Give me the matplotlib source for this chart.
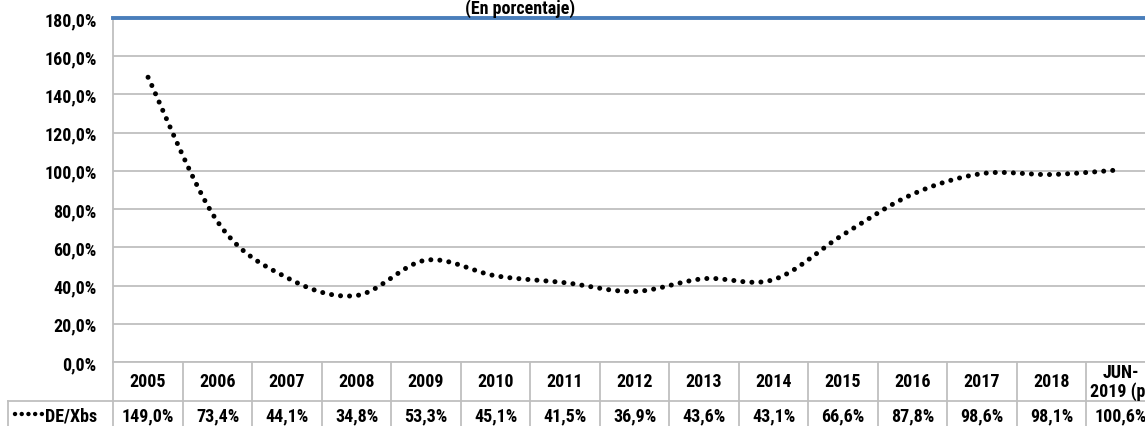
import numpy as np
import matplotlib
matplotlib.use("Agg")
import matplotlib.pyplot as plt
import matplotlib.transforms as mtransforms
from matplotlib.lines import Line2D

plt.rcParams['font.family'] = ['Roboto Condensed', 'Liberation Sans', 'DejaVu Sans']
plt.rcParams['font.weight'] = 'bold'

# datos (en porcentaje)
categorias = ['2005', '2006', '2007', '2008', '2009', '2010', '2011', '2012',
              '2013', '2014', '2015', '2016', '2017', '2018', 'JUN-\n2019 (p)']
valores = [149.0, 73.4, 44.1, 34.8, 53.3, 45.1, 41.5, 36.9,
           43.6, 43.1, 66.6, 87.8, 98.6, 98.1, 100.6]
serie = 'DE/Xbs'
titulo = '(En porcentaje)'
yticks = [0, 20, 40, 60, 80, 100, 120, 140, 160, 180]

FS = 13


def suavizar(x, y, n=30):
    # curva suavizada tipo Excel (Catmull-Rom) entre puntos consecutivos
    x = np.asarray(x, float)
    y = np.asarray(y, float)
    px = np.concatenate([[x[0]], x, [x[-1]]])
    py = np.concatenate([[y[0]], y, [y[-1]]])
    xs, ys = [], []
    t = np.linspace(0, 1, n, endpoint=False)
    for i in range(1, len(px) - 2):
        p0, p1, p2, p3 = (np.array([px[j], py[j]]) for j in range(i - 1, i + 3))
        c1 = p1 + (p2 - p0) / 6
        c2 = p2 - (p3 - p1) / 6
        b = ((1 - t) ** 3)[:, None] * p1 + (3 * (1 - t) ** 2 * t)[:, None] * c1 \
            + (3 * (1 - t) * t ** 2)[:, None] * c2 + (t ** 3)[:, None] * p2
        xs.append(b[:, 0])
        ys.append(b[:, 1])
    xs.append([x[-1]])
    ys.append([y[-1]])
    return np.concatenate(xs), np.concatenate(ys)


W, H = 1145, 427
fig = plt.figure(figsize=(W / 100, H / 100), dpi=100)
left, right, top, bottom = 113.3, 1155.8, 19, 363
ax = fig.add_axes([left / W, 1 - bottom / H, (right - left) / W, (bottom - top) / H])

punteado = dict(color='black', linewidth=3.6, linestyle=(0, (0.01, 1.8)),
                dash_capstyle='round')

x = np.arange(len(categorias))
xs, ys = suavizar(x, valores)
ax.plot(xs, ys, zorder=3, **punteado)

ax.set_xlim(-0.5, len(categorias) - 0.5)
ax.set_ylim(0, 180)
ax.set_yticks(yticks)
ax.set_yticklabels([f'{v:.1f}%'.replace('.', ',') for v in yticks], fontsize=FS,
                   fontweight='bold')
ax.tick_params(axis='y', length=0, pad=12)
ax.set_xticks([])
ax.grid(axis='y', color='#bfbfbf', linewidth=1.3)
ax.set_axisbelow(True)
for s in ['right', 'bottom']:
    ax.spines[s].set_visible(False)
ax.spines['left'].set_color('#bfbfbf')
ax.spines['left'].set_linewidth(1.3)
ax.spines['top'].set_color('#4a7ebb')
ax.spines['top'].set_linewidth(2.8)

# tabla de datos
trans = mtransforms.blended_transform_factory(ax.transData, ax.transAxes)
h_head = (402 - bottom) / (bottom - top)
h_row = (428 - bottom) / (bottom - top)
gcol = '#bfbfbf'
label_left = -0.5 - (left - 8) / ((right - left) / len(categorias))
n = len(categorias)
for i, cat in enumerate(categorias):
    ax.text(i, -h_head / 2, cat, transform=trans, ha='center', va='center',
            fontsize=FS, fontweight='bold', clip_on=False, linespacing=1.0)
    ax.text(i, -(h_head + h_row) / 2 - 0.005, f'{valores[i]:.1f}%'.replace('.', ','),
            transform=trans, ha='center', va='center', fontsize=FS,
            fontweight='bold', clip_on=False)
for b in range(n + 1):
    ax.add_line(Line2D([b - 0.5, b - 0.5], [0, -h_row], transform=trans,
                       color=gcol, linewidth=1.3, clip_on=False))
ax.add_line(Line2D([-0.5, n - 0.5], [0, 0], transform=trans, color=gcol,
                   linewidth=1.3, clip_on=False))
ax.add_line(Line2D([label_left, n - 0.5], [-h_head, -h_head], transform=trans,
                   color=gcol, linewidth=1.3, clip_on=False))
ax.add_line(Line2D([label_left, label_left], [-h_head, -h_row - 0.01],
                   transform=trans, color=gcol, linewidth=1.3, clip_on=False))
# muestra de la serie
ymid = -(h_head + h_row) / 2
ax.add_line(Line2D([label_left + 0.1, label_left + 0.5], [ymid, ymid],
                   transform=trans, clip_on=False, color='black', linewidth=3.2,
                   linestyle=(0, (0.01, 1.5)), dash_capstyle='round'))
ax.text(-0.5 - 0.23, ymid - 0.005, serie, transform=trans, ha='right', va='center',
        fontsize=FS, fontweight='bold', clip_on=False)

fig.text(520 / W, 1 - 14 / H, titulo, ha='center', va='baseline', fontsize=FS,
         fontweight='bold')

fig.savefig('out.png', dpi=100)
